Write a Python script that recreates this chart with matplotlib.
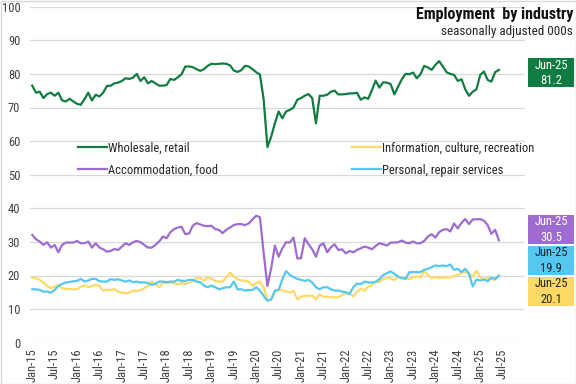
import numpy as np
import pandas as pd
import matplotlib
matplotlib.use('Agg')
import matplotlib.pyplot as plt
from matplotlib.patches import Rectangle

plt.rcParams['font.family'] = ['Liberation Sans Narrow', 'Roboto Condensed', 'Lato', 'DejaVu Sans']

# monthly, Jan-15 .. Jun-25 (000s, seasonally adjusted)
months = pd.date_range('2015-01-01', periods=126, freq='MS')

wholesale = [76.5, 74.4, 74.7, 72.8, 74.0, 74.4, 73.5, 74.4, 72.1, 71.8, 72.6, 71.8,
             71.1, 70.8, 72.5, 74.4, 72.1, 73.8, 73.3, 74.4, 76.4, 76.5, 77.2, 77.4,
             77.9, 78.7, 78.5, 78.9, 80.0, 77.9, 79.0, 77.2, 77.9, 77.2, 76.5, 76.5,
             76.7, 78.5, 78.2, 79.0, 79.9, 82.2, 82.2, 82.0, 81.4, 80.9, 81.4, 82.4,
             83.0, 82.9, 83.0, 83.1, 83.0, 82.5, 81.0, 80.6, 81.1, 82.4, 82.2, 81.4,
             80.5, 79.8, 72.3, 58.2, 61.3, 65.3, 68.8, 66.8, 68.8, 69.3, 70.0, 72.3,
             72.8, 73.5, 74.0, 72.8, 65.3, 73.5, 73.5, 73.8, 74.7, 75.0, 73.9, 73.9,
             74.0, 74.2, 74.2, 74.4, 72.3, 73.0, 72.6, 75.2, 78.0, 75.9, 77.5, 77.4,
             77.0, 73.9, 76.2, 78.4, 80.0, 79.9, 80.4, 78.7, 79.9, 82.4, 81.9, 81.2,
             82.7, 83.8, 82.2, 80.5, 80.0, 79.7, 77.9, 78.4, 75.4, 73.5, 74.7, 75.4,
             79.7, 80.7, 78.2, 77.7, 80.5, 81.2]

info_culture = [19.4, 19.2, 18.7, 17.9, 16.9, 16.2, 16.7, 17.2, 16.2, 16.0, 16.0, 15.9,
                15.9, 16.7, 17.0, 16.5, 16.9, 17.2, 16.9, 15.5, 15.7, 15.7, 15.9, 15.2,
                14.9, 14.7, 14.9, 15.5, 15.4, 15.7, 16.2, 16.9, 18.2, 17.5, 16.5, 17.9,
                17.7, 17.9, 17.7, 17.4, 17.7, 17.5, 17.9, 18.4, 19.2, 19.2, 18.4, 19.5,
                19.0, 18.4, 18.2, 18.2, 19.4, 20.9, 19.7, 18.9, 18.5, 18.4, 18.2, 16.9,
                17.7, 18.2, 16.4, 12.7, 12.7, 15.2, 15.9, 15.7, 15.2, 14.9, 15.4, 12.9,
                13.7, 14.0, 13.9, 14.0, 12.9, 14.4, 13.7, 13.7, 13.5, 13.5, 13.5, 14.2,
                14.7, 14.6, 13.7, 15.1, 16.1, 15.4, 16.7, 17.1, 18.1, 18.1, 18.9, 19.2,
                19.2, 18.6, 19.6, 19.4, 19.2, 18.9, 19.4, 19.7, 19.4, 21.4, 20.1, 19.2,
                19.6, 19.2, 19.4, 19.4, 19.4, 19.9, 20.2, 20.7, 21.1, 20.4, 19.7, 21.4,
                19.6, 18.9, 19.2, 19.1, 18.6, 20.1]

accommodation = [32.1, 30.8, 30.1, 29.1, 29.9, 28.3, 29.1, 26.9, 29.1, 29.8, 29.8, 29.8,
                 30.3, 29.6, 29.6, 30.1, 28.3, 29.6, 28.3, 27.8, 27.1, 27.3, 27.9, 27.6,
                 28.6, 29.6, 29.1, 29.9, 30.3, 29.9, 29.1, 28.3, 28.3, 29.1, 30.1, 31.6,
                 31.1, 32.9, 33.8, 34.3, 34.5, 32.3, 32.5, 34.8, 35.6, 35.2, 34.8, 34.7,
                 34.8, 33.8, 33.6, 32.6, 33.6, 34.3, 35.0, 35.3, 35.3, 35.0, 35.5, 36.7,
                 37.8, 37.3, 26.6, 16.9, 22.1, 28.9, 25.6, 28.1, 29.9, 29.8, 31.3, 25.1,
                 25.1, 31.1, 29.3, 27.8, 25.6, 28.9, 29.6, 26.9, 28.4, 29.3, 27.6, 27.8,
                 26.6, 27.3, 26.9, 27.6, 28.1, 28.6, 28.3, 27.8, 28.8, 29.6, 29.3, 28.9,
                 29.8, 29.8, 29.9, 30.4, 29.8, 29.6, 30.1, 29.6, 29.6, 30.3, 31.6, 32.3,
                 31.3, 32.9, 33.6, 33.8, 33.1, 35.5, 34.0, 35.7, 36.8, 35.3, 36.7, 36.7,
                 36.8, 36.3, 35.0, 32.4, 33.6, 30.5]

personal = [15.9, 15.9, 15.7, 15.2, 15.2, 14.9, 15.7, 16.9, 17.5, 17.9, 18.1, 18.3,
            18.4, 19.0, 18.2, 18.5, 19.0, 19.0, 18.3, 18.2, 18.2, 18.9, 18.7, 18.9,
            18.5, 18.2, 18.5, 18.0, 18.2, 17.9, 18.0, 17.7, 17.2, 17.5, 18.2, 18.2,
            18.0, 18.2, 18.2, 18.7, 18.4, 18.4, 18.7, 18.7, 18.2, 18.0, 17.0, 16.5,
            17.0, 16.5, 15.9, 16.2, 16.5, 16.5, 18.2, 15.9, 15.9, 15.5, 15.7, 15.7,
            16.5, 15.5, 13.9, 12.5, 12.9, 15.5, 15.7, 18.9, 21.3, 20.2, 19.5, 19.0,
            18.7, 18.4, 18.7, 17.9, 16.5, 15.9, 16.5, 16.5, 15.9, 15.5, 15.5, 15.2,
            15.0, 14.5, 16.5, 17.6, 17.4, 18.2, 17.9, 17.9, 18.1, 18.9, 20.1, 20.7,
            21.2, 20.5, 19.7, 19.2, 19.0, 21.0, 21.0, 21.0, 21.0, 21.7, 22.0, 22.5,
            23.0, 22.8, 23.0, 22.8, 23.3, 21.7, 22.0, 21.0, 22.0, 20.5, 16.7, 18.8,
            18.5, 18.8, 18.3, 19.3, 19.0, 19.9]

names = ['Wholesale, retail', 'Information, culture, recreation',
         'Accommodation, food', 'Personal, repair services']
colors = ['#107C41', '#FFD966', '#9E6CD0', '#55C8F0']
series = [wholesale, info_culture, accommodation, personal]

# end-of-series label boxes: centre position (left-axis units), text colour
end_label_y = [80.3, 15.2, 33.7, 24.5]
end_text_col = ['white', '#222222', 'white', '#222222']

W, H = 576, 384
fig = plt.figure(figsize=(5.76, 3.84), dpi=100)
ax = fig.add_axes([30 / W, 1 - 342.7 / H, 495 / W, 336 / H])

x = np.arange(len(months))
lines = []
for s, c, n in zip(series, colors, names):
    l, = ax.plot(x, s, color=c, lw=1.6, label=n, solid_joinstyle='round')
    lines.append(l)

ax.set_xlim(-0.6, 132)
ax.set_ylim(0, 100)
ax.set_yticks(np.arange(0, 101, 10))
ax.grid(axis='y', color='#D9D9D9', lw=0.9)
ax.set_axisbelow(True)
for sp in ax.spines.values():
    sp.set_visible(False)
ax.tick_params(axis='both', length=0, labelsize=9, colors='#404040')
ax.tick_params(axis='y', pad=7)
ax.tick_params(axis='x', pad=4)

tick_idx = np.arange(0, 127, 6)
tick_dates = pd.date_range('2015-01-01', periods=len(tick_idx), freq='6MS')
ax.set_xticks(tick_idx)
ax.set_xticklabels([d.strftime('%b-%y') for d in tick_dates], rotation=90)

# legend, two columns placed separately
leg_kw = dict(frameon=False, loc='center left', borderaxespad=0, borderpad=0,
              fontsize=9, handlelength=2.3, handletextpad=0.1,
              labelspacing=0.75, labelcolor='#262626')
leg1 = ax.legend([lines[0], lines[2]], [names[0], names[2]],
                 bbox_to_anchor=((78 - 30) / 495, (342.7 - 159) / 336), **leg_kw)
ax.add_artist(leg1)
ax.legend([lines[1], lines[3]], [names[1], names[3]],
          bbox_to_anchor=((352 - 30) / 495, (342.7 - 159) / 336), **leg_kw)

# title
fig.text(573 / W, 1 - 15 / H, 'Employment  by industry', ha='right', va='center',
         fontsize=11.5, fontweight='bold', color='#111111')
fig.text(573 / W, 1 - 32 / H, 'seasonally adjusted 000s', ha='right', va='center',
         fontsize=9.5, color='#262626')

# end labels
for yv, c, tc, s in zip(end_label_y, colors, end_text_col, series):
    ypx = 342.7 - yv * 3.36
    fig.patches.append(Rectangle((528 / W, 1 - (ypx + 14.5) / H), 46 / W, 29 / H,
                                 transform=fig.transFigure, facecolor=c,
                                 edgecolor='none'))
    fig.text(551 / W, 1 - ypx / H, 'Jun-25\n%.1f' % s[-1], ha='center', va='center',
             fontsize=9, color=tc, linespacing=1.25)

fig.patches.append(Rectangle((0.5 / W, 0.5 / H), 1 - 1 / W, 1 - 1 / H,
                             transform=fig.transFigure, fill=False,
                             edgecolor='#D9D9D9', lw=1))

fig.savefig('out.png', dpi=100)
